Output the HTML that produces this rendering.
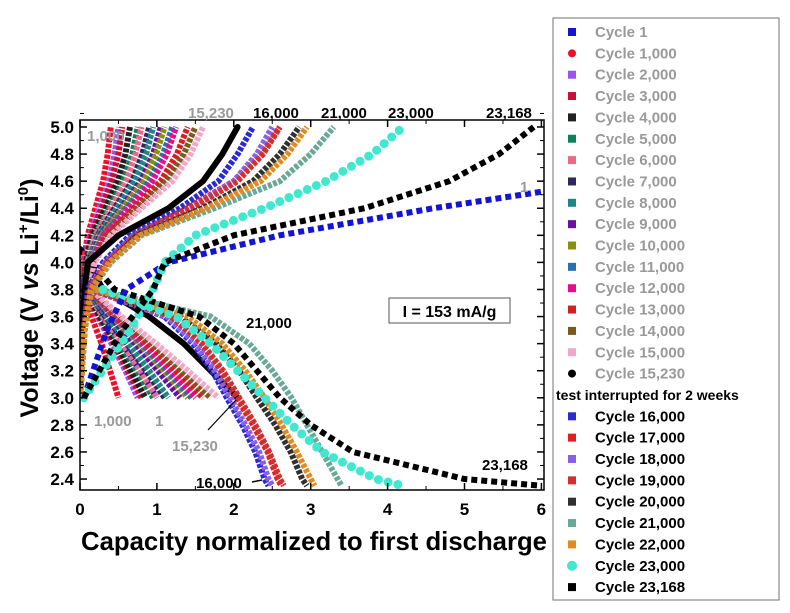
<!DOCTYPE html>
<html><head><meta charset="utf-8"><style>
body{margin:0;background:#fff;}
svg text{font-family:"Liberation Sans",Arial,sans-serif;font-weight:bold;}
</style></head><body>
<svg id="chart" width="790" height="608" viewBox="0 0 790 608" xmlns="http://www.w3.org/2000/svg">
<defs><clipPath id="clip"><rect x="80" y="120" width="464" height="370"/></clipPath></defs>
<g id="series" clip-path="url(#clip)"></g>
<g id="axes"></g>
<g id="legend"></g>
</svg>
<script>
const NS='http://www.w3.org/2000/svg';
const xTicks=[0,1,2,3,4,5,6];
const yTicks=[2.4,2.6,2.8,3.0,3.2,3.4,3.6,3.8,4.0,4.2,4.4,4.6,4.8,5.0];
const chargeV=[3.0,3.5,3.8,4.0,4.2,4.4,4.6,4.8,5.0];
const dischargeV=[4.1,3.8,3.6,3.4,3.2,3.0,2.8,2.6,2.4,2.35];
const names=['Cycle 1','Cycle 1,000','Cycle 2,000','Cycle 3,000','Cycle 4,000','Cycle 5,000','Cycle 6,000','Cycle 7,000','Cycle 8,000','Cycle 9,000','Cycle 10,000','Cycle 11,000','Cycle 12,000','Cycle 13,000','Cycle 14,000','Cycle 15,000','Cycle 15,230','Cycle 16,000','Cycle 17,000','Cycle 18,000','Cycle 19,000','Cycle 20,000','Cycle 21,000','Cycle 22,000','Cycle 23,000','Cycle 23,168'];
const colors=['#1515d0','#e8102a','#9a55e8','#c8103a','#222','#10805a','#e86a88','#2a2a60','#208585','#6a10a0','#889010','#2a70b0','#e0108a','#d02020','#7a5a20','#f2a6c8','#000','#2a2ad0','#e02020','#8a60e6','#d03030','#303030','#6aa898','#e08a20','#40e8d0','#000'];
const chargeCap=[
[0.05,0.35,0.6,1.15,2.6,4.6,6.9,null,null],
[0,.02,.03,.05,.1,.2,.3,.36,.4],
[0,.02,.04,.06,.13,.25,.38,.45,.5],
[0,.02,.04,.07,.14,.28,.41,.5,.55],
[0,.03,.05,.08,.16,.33,.49,.59,.65],
[0,.03,.06,.09,.19,.38,.56,.68,.75],
[0,.03,.06,.1,.2,.4,.6,.72,.8],
[0,.04,.07,.11,.23,.45,.68,.81,.9],
[0,.04,.08,.11,.24,.48,.71,.86,.95],
[0,.04,.08,.13,.26,.53,.79,.95,1.05],
[0,.04,.09,.13,.28,.55,.83,.99,1.1],
[0,.05,.1,.14,.3,.6,.9,1.08,1.2],
[0,.05,.1,.15,.31,.63,.94,1.13,1.25],
[0,.06,.11,.17,.35,.7,1.05,1.26,1.4],
[0,.06,.12,.18,.38,.75,1.13,1.35,1.5],
[0,.06,.13,.19,.4,.8,1.2,1.44,1.6],
[0,.03,.06,.1,.5,1.15,1.6,1.85,2.05],
[0,.05,.1,.3,.65,1.3,1.8,2.05,2.25],
[0,.05,.12,.35,.7,1.4,2.0,2.35,2.6],
[0,.05,.12,.33,.7,1.45,2.0,2.3,2.5],
[0,.05,.12,.35,.72,1.45,2.05,2.38,2.6],
[0,.06,.14,.38,.75,1.6,2.25,2.6,2.85],
[0,.06,.15,.4,.8,1.75,2.6,3.0,3.3],
[0,.06,.14,.38,.78,1.65,2.35,2.7,2.95],
[0.05,0.65,0.95,1.1,1.5,2.4,3.2,3.8,4.2],
[0.05,0.55,0.95,1.1,2.0,3.7,4.8,5.45,5.9]];
const dischargeCap=[
[0,.08,.3,.55,.78,1.0,null,null,null,null],
[0,.04,.15,.28,.39,.5,null,null,null,null],
[0,.06,.23,.41,.59,.75,null,null,null,null],
[0,.06,.24,.44,.62,.8,null,null,null,null],
[0,.07,.26,.47,.66,.85,null,null,null,null],
[0,.08,.29,.52,.74,.95,null,null,null,null],
[0,.08,.3,.55,.78,1.0,null,null,null,null],
[0,.09,.33,.61,.86,1.1,null,null,null,null],
[0,.09,.35,.63,.9,1.15,null,null,null,null],
[0,.1,.39,.72,1.01,1.3,null,null,null,null],
[0,.11,.42,.77,1.09,1.4,null,null,null,null],
[0,.12,.44,.8,1.13,1.45,null,null,null,null],
[0,.12,.45,.83,1.17,1.5,null,null,null,null],
[0,.13,.48,.88,1.25,1.6,null,null,null,null],
[0,.14,.51,.94,1.33,1.7,null,null,null,null],
[0,.14,.54,.99,1.4,1.8,null,null,null,null],
[0,.3,.9,1.35,1.7,2.05,null,null,null,null],
[0,.15,1.1,1.47,1.72,1.91,2.11,2.28,2.4,2.45],
[0,.16,1.18,1.57,1.83,2.04,2.25,2.44,2.57,2.62],
[0,.15,1.13,1.5,1.75,1.95,2.15,2.33,2.45,2.5],
[0,.16,1.19,1.59,1.86,2.07,2.28,2.46,2.6,2.65],
[0,.18,1.3,1.77,2.07,2.3,2.54,2.74,2.89,2.95],
[0,.2,1.7,2.2,2.5,2.75,2.95,3.15,3.35,3.4],
[0,.18,1.4,1.85,2.15,2.4,2.62,2.82,3.0,3.05],
[null,.3,1.25,1.7,2.05,2.4,2.75,3.15,3.85,4.2],
[0,.45,1.55,2.0,2.3,2.6,3.0,3.55,5.0,6.0]];

const X=v=>80+v*76.9;
const Y=v=>127+(5.0-v)*135.4;
const gS=document.getElementById('series'),gA=document.getElementById('axes');
function mk(tag,attrs,parent){const e=document.createElementNS(NS,tag);for(const k in attrs)e.setAttribute(k,attrs[k]);parent.appendChild(e);return e;}
function txt(x,y,s,size,fill,parent,anchor){const t=mk('text',{x:x,y:y,'font-size':size,fill:fill,'text-anchor':anchor||'start'},parent);t.textContent=s;return t;}
function styleFor(i){
  if(i===0||i===25) return {w:6,dash:'6 4',cap:'butt'};
  if(i===24) return {w:9,dash:'0 10',cap:'round'};
  if(i===16) return {w:6,dash:'',cap:'round'};
  return {w:6,dash:'4 1.5',cap:'butt'};
}
function drawLine(caps,volts,i,kind){
  const pts=[];caps.forEach((c,k)=>{if(c!==null)pts.push(X(c).toFixed(1)+','+Y(volts[k]).toFixed(1));});
  const st=styleFor(i);
  const p=mk('polyline',{points:pts.join(' '),fill:'none',stroke:colors[i],'stroke-width':st.w,'stroke-dasharray':st.dash,'stroke-linecap':st.cap},gS);
  
  
}
for(let i=0;i<names.length;i++){drawLine(dischargeCap[i],dischargeV,i,'discharge');}
for(let i=0;i<names.length;i++){drawLine(chargeCap[i],chargeV,i,'charge');}

const fr=mk('rect',{x:80,y:120,width:464,height:370,fill:'none',stroke:'#000','stroke-width':1.5},gA);

xTicks.forEach(v=>{
  mk('line',{x1:X(v),x2:X(v),y1:490,y2:483,stroke:'#000','stroke-width':1.5},gA);
  mk('line',{x1:X(v),x2:X(v),y1:120,y2:127,stroke:'#000','stroke-width':1.5},gA);
  if(v<6){mk('line',{x1:X(v+0.5),x2:X(v+0.5),y1:490,y2:486,stroke:'#000'},gA);mk('line',{x1:X(v+0.5),x2:X(v+0.5),y1:120,y2:124,stroke:'#000'},gA);}
  const t=txt(X(v),515,String(v),17,'#000',gA,'middle');
  
});
yTicks.forEach(v=>{
  mk('line',{x1:80,x2:87,y1:Y(v),y2:Y(v),stroke:'#000','stroke-width':1.5},gA);
  mk('line',{x1:544,x2:537,y1:Y(v),y2:Y(v),stroke:'#000','stroke-width':1.5},gA);
  mk('line',{x1:80,x2:84,y1:Y(v+0.1),y2:Y(v+0.1),stroke:'#000'},gA);
  mk('line',{x1:544,x2:540,y1:Y(v+0.1),y2:Y(v+0.1),stroke:'#000'},gA);
  const t=txt(74,Y(v)+6,v.toFixed(1),17,'#000',gA,'end');
  
});
</script>
<svg style="position:absolute;left:0;top:0" width="790" height="608">
<text x="314" y="550" font-size="26" text-anchor="middle" textLength="466" lengthAdjust="spacingAndGlyphs" style="font-family:'Liberation Sans',sans-serif;font-weight:bold">Capacity normalized to first discharge</text>
<text transform="translate(38,298) rotate(-90)" font-size="25" text-anchor="middle" style="font-family:'Liberation Sans',sans-serif;font-weight:bold">Voltage (V <tspan font-style="italic">vs</tspan> Li<tspan font-size="15" dy="-10">+</tspan><tspan dy="10">/Li</tspan><tspan font-size="15" dy="-10">0</tspan><tspan dy="10">)</tspan></text>
<g style="font-family:'Liberation Sans',sans-serif;font-weight:bold" font-size="15">
<text x="188" y="118" fill="#999">15,230</text>
<text x="253" y="118" fill="#000">16,000</text>
<text x="321" y="118" fill="#000">21,000</text>
<text x="388" y="118" fill="#000">23,000</text>
<text x="486" y="118" fill="#000">23,168</text>
<text x="87" y="141" fill="#999">1,000</text>
<text x="520" y="192" fill="#999">1</text>
<text x="246" y="328" fill="#000">21,000</text>
<text x="94" y="426" fill="#999">1,000</text>
<text x="155" y="426" fill="#999">1</text>
<text x="172" y="451" fill="#999">15,230</text>
<line x1="208" y1="430" x2="236" y2="400" stroke="#000" stroke-width="1.2"/>
<text x="196" y="488" fill="#000">16,000</text>
<line x1="252" y1="482" x2="262" y2="480" stroke="#000" stroke-width="1.5"/>
<text x="482" y="470" fill="#000">23,168</text>
<rect x="389" y="298" width="121" height="25" fill="#fff" stroke="#555"/>
<text x="449.5" y="317" text-anchor="middle" font-size="16" fill="#000">I = 153 mA/g</text>
</g>
</svg>
<script>
(function(){
const lg=document.getElementById('legend');
const NS2='http://www.w3.org/2000/svg';
const box=document.createElementNS(NS2,'rect');
box.setAttribute('x',553);box.setAttribute('y',18);box.setAttribute('width',226);box.setAttribute('height',582);
box.setAttribute('fill','#fff');box.setAttribute('stroke','#888');box.setAttribute('stroke-width','1.2');


lg.appendChild(box);
let y=32;
const step=21.35;
for(let i=0;i<names.length;i++){
  if(i===17){
    const t=document.createElementNS(NS2,'text');
    t.setAttribute('x',556);t.setAttribute('y',y+5);t.setAttribute('font-size',14);t.setAttribute('fill','#000');
    t.textContent='test interrupted for 2 weeks';
    
    
    lg.appendChild(t);y+=step;
  }
  const m=document.createElementNS(NS2, i===24||i===16||i===1?'circle':'rect');
  if(m.tagName==='circle'){m.setAttribute('cx',572);m.setAttribute('cy',y);m.setAttribute('r',i===24?5:4);}
  else{m.setAttribute('x',568);m.setAttribute('y',y-4);m.setAttribute('width',8);m.setAttribute('height',8);}
  m.setAttribute('fill',colors[i]);
  
  
  lg.appendChild(m);
  const t=document.createElementNS(NS2,'text');
  t.setAttribute('x',595);t.setAttribute('y',y+5);t.setAttribute('font-size',15);
  t.setAttribute('fill',i<17?'#999':'#000');
  t.textContent=names[i];
  
  
  lg.appendChild(t);
  y+=step;
}
})();
</script>
</body></html>
